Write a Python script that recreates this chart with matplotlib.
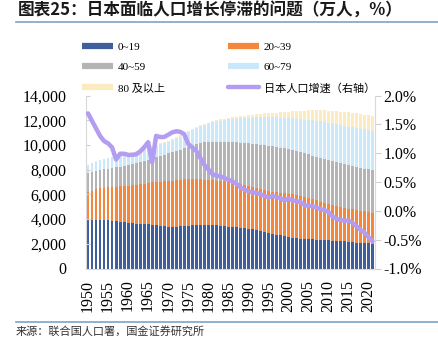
import matplotlib
matplotlib.use('Agg')
import matplotlib.pyplot as plt
from matplotlib.lines import Line2D
from matplotlib.ticker import FuncFormatter, MultipleLocator
import numpy as np

plt.rcParams['font.family'] = ['Liberation Serif', 'Noto Sans CJK SC']

years = list(range(1950, 2022))

# cumulative tops of the stacked bars (万人)
upto_19 = [3910, 3920, 3920, 3910, 3900, 3890, 3860, 3820, 3780, 3740,
           3700, 3670, 3640, 3620, 3600, 3580, 3560, 3510, 3460, 3420,
           3390, 3380, 3380, 3400, 3430, 3460, 3490, 3510, 3520, 3520,
           3520, 3510, 3490, 3460, 3420, 3380, 3350, 3320, 3290, 3260,
           3230, 3170, 3100, 3040, 2970, 2900, 2830, 2750, 2680, 2610,
           2550, 2490, 2450, 2410, 2390, 2370, 2350, 2330, 2310, 2290,
           2270, 2250, 2230, 2210, 2190, 2160, 2130, 2100, 2080, 2060,
           2040, 2020]
upto_39 = [6200, 6300, 6400, 6480, 6530, 6570, 6600, 6630, 6650, 6680,
           6700, 6720, 6750, 6800, 6860, 6910, 6960, 6990, 7020, 7050,
           7080, 7120, 7160, 7200, 7220, 7230, 7230, 7230, 7220, 7200,
           7180, 7150, 7120, 7090, 7050, 7010, 6950, 6890, 6820, 6760,
           6690, 6600, 6510, 6420, 6340, 6280, 6230, 6190, 6150, 6100,
           6050, 5990, 5910, 5830, 5750, 5670, 5590, 5510, 5420, 5340,
           5250, 5160, 5080, 4990, 4920, 4850, 4790, 4720, 4670, 4620,
           4570, 4530]
upto_59 = [7690, 7780, 7870, 7960, 8020, 8080, 8130, 8180, 8230, 8300,
           8360, 8430, 8500, 8600, 8700, 8800, 8900, 9000, 9100, 9200,
           9310, 9410, 9520, 9620, 9720, 9850, 9980, 10080, 10150, 10200,
           10230, 10250, 10260, 10260, 10260, 10250, 10240, 10220, 10190, 10160,
           10120, 10090, 10050, 10020, 9980, 9930, 9880, 9830, 9770, 9720,
           9670, 9580, 9500, 9410, 9320, 9230, 9140, 9040, 8950, 8850,
           8760, 8670, 8590, 8500, 8430, 8360, 8300, 8230, 8160, 8090,
           8020, 7960]
upto_79 = [8360, 8500, 8640, 8770, 8850, 8930, 9010, 9090, 9170, 9240,
           9300, 9370, 9440, 9540, 9640, 9750, 9850, 9950, 10050, 10150,
           10250, 10380, 10520, 10680, 10850, 11030, 11200, 11360, 11500, 11620,
           11740, 11830, 11900, 11960, 12020, 12070, 12100, 12130, 12150, 12170,
           12190, 12210, 12230, 12250, 12260, 12260, 12250, 12230, 12210, 12190,
           12170, 12140, 12110, 12080, 12050, 12010, 11980, 11950, 11910, 11870,
           11810, 11740, 11670, 11600, 11550, 11490, 11440, 11380, 11320, 11250,
           11190, 11120]
total = [8400, 8540, 8680, 8810, 8900, 8980, 9060, 9140, 9220, 9290,
         9360, 9430, 9500, 9600, 9700, 9810, 9920, 10020, 10130, 10230,
         10340, 10480, 10630, 10800, 10960, 11150, 11300, 11450, 11580, 11690,
         11800, 11900, 11980, 12060, 12130, 12200, 12250, 12290, 12330, 12370,
         12410, 12450, 12480, 12520, 12550, 12570, 12590, 12610, 12630, 12660,
         12690, 12720, 12740, 12760, 12780, 12790, 12790, 12800, 12800, 12790,
         12780, 12760, 12730, 12690, 12660, 12630, 12600, 12560, 12510, 12460,
         12410, 12360]
growth = [1.69, 1.56, 1.43, 1.30, 1.21, 1.17, 1.10, 0.89, 0.99, 0.99,
          0.97, 0.97, 0.98, 1.03, 1.10, 1.19, 0.84, 1.30, 1.28, 1.28,
          1.32, 1.36, 1.38, 1.37, 1.33, 1.16, 1.10, 1.04, 0.92, 0.80,
          0.72, 0.64, 0.61, 0.60, 0.57, 0.54, 0.51, 0.47, 0.41, 0.37,
          0.34, 0.32, 0.31, 0.29, 0.26, 0.23, 0.26, 0.24, 0.22, 0.18,
          0.21, 0.18, 0.17, 0.15, 0.10, 0.09, 0.08, 0.06, 0.03, 0.01,
          -0.02, -0.10, -0.14, -0.16, -0.17, -0.17, -0.21, -0.27, -0.33, -0.38,
          -0.46, -0.53]

groups = ['0~19', '20~39', '40~59', '60~79', '80 及以上']
colors = ['#3f5e9c', '#f4873c', '#b4b4b4', '#c9e9fb', '#fdebc0']
line_color = '#b39df3'
line_label = '日本人口增速（右轴）'

tops = np.array([upto_19, upto_39, upto_59, upto_79, total])
bottoms = np.vstack([np.zeros(len(years)), tops[:-1]])

fig = plt.figure(figsize=(4.39, 3.38), dpi=100)
fig.patch.set_facecolor('white')
ax = fig.add_axes([86 / 439, 1 - 268.5 / 338, 289 / 439, 173 / 338])

for i in range(len(groups)):
    ax.bar(years, tops[i] - bottoms[i], bottom=bottoms[i], width=0.72,
           color=colors[i], linewidth=0)

ax.set_xlim(1949.5, 2021.6)
ax.set_ylim(0, 14000)
ax.yaxis.set_major_locator(MultipleLocator(2000))
ax.yaxis.set_major_formatter(FuncFormatter(lambda v, p: f'{int(v):,}'))
ax.set_xticks(list(range(1950, 2021, 5)))
ax.set_xticklabels([str(y) for y in range(1950, 2021, 5)], rotation=90)
ax.tick_params(axis='x', length=0, pad=8, labelsize=11.5)
ax.tick_params(axis='y', direction='in', length=3, color='#d0d0d0', pad=14, labelsize=11.5)
for s in ['top', 'right']:
    ax.spines[s].set_visible(False)
for s in ['left', 'bottom']:
    ax.spines[s].set_color('#d9d9d9')

ax2 = ax.twinx()
ax2.plot(years, growth, color=line_color, lw=3.2, solid_capstyle='round')
ax2.set_ylim(-1.0, 2.0)
ax2.yaxis.set_major_locator(MultipleLocator(0.5))
ax2.yaxis.set_major_formatter(FuncFormatter(lambda v, p: f'{v:.1f}%'))
ax2.tick_params(axis='y', direction='out', length=4, color='#d0d0d0', pad=2, labelsize=11.5)
for s in ['top', 'left', 'bottom']:
    ax2.spines[s].set_visible(False)
ax2.spines['right'].set_color('#d9d9d9')

handles = [Line2D([], [], color=c, lw=4.5, solid_capstyle='butt') for c in colors]
handles.append(Line2D([], [], color=line_color, lw=3.2, solid_capstyle='round'))
labels = groups + [line_label]
order = [0, 2, 4, 1, 3, 5]
fig.legend([handles[i] for i in order], [labels[i] for i in order],
           ncol=2, loc='upper left', bbox_to_anchor=(72 / 439, 1 - 32 / 338),
           frameon=False, fontsize=8, handlelength=2.8, handletextpad=0.4,
           labelspacing=0.95, columnspacing=5.7)

fig.text(18 / 439, 1 - 11 / 338, '图表25：日本面临人口增长停滞的问题（万人，%）',
         fontsize=12, fontweight='bold', color='#1a1a1a', va='center', ha='left',
         family=['Noto Sans CJK SC', 'DejaVu Sans'])
fig.add_artist(Line2D([16 / 439, 1.0], [1 - 22 / 338, 1 - 22 / 338],
                      color='#7fa3c2', lw=1.2))
fig.add_artist(Line2D([16 / 439, 1.0], [1 - 322 / 338, 1 - 322 / 338],
                      color='#7fa3c2', lw=1.2))
fig.text(16 / 439, 1 - 331 / 338, '来源：联合国人口署，国金证券研究所',
         fontsize=8, color='#333333', va='center', ha='left',
         family=['Noto Sans CJK SC', 'DejaVu Sans'])

fig.savefig('out.png', dpi=100)
